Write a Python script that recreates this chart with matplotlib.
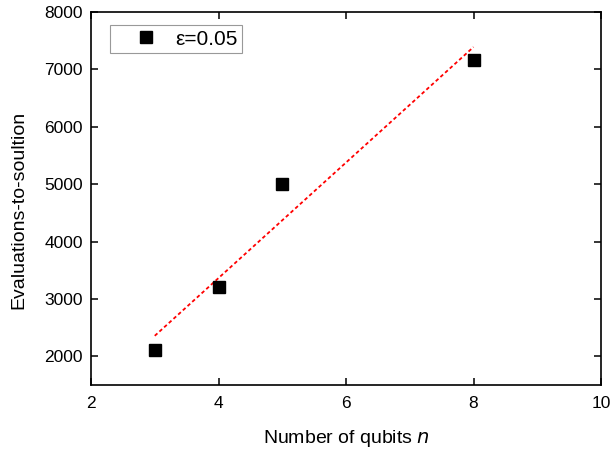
import numpy as np
import matplotlib.pyplot as plt

plt.rcParams['font.family'] = ['Liberation Sans', 'DejaVu Sans']

# data
qubits = [3, 4, 5, 8]
evaluations = [2110, 3200, 5000, 7170]
eps_label = 'ε=0.05'

fig = plt.figure(figsize=(6.11, 4.5), dpi=100)
ax = fig.add_axes([91/611, 65/450, 510/611, 373/450])

ax.plot(qubits, evaluations, 's', color='black', markersize=8, label=eps_label, zorder=3)

# linear fit through the points
coef = np.polyfit(qubits, evaluations, 1)
xfit = np.array([min(qubits), max(qubits)])
ax.plot(xfit, np.polyval(coef, xfit), color='red', linestyle=(0, (2, 1.5)), linewidth=1.3)

ax.set_xlim(2, 10)
ax.set_ylim(1500, 8000)
ax.set_xticks([2, 4, 6, 8, 10])
ax.set_yticks([2000, 3000, 4000, 5000, 6000, 7000, 8000])
ax.tick_params(direction='in', top=True, right=True, length=5, width=1.1, labelsize=12.5)
ax.tick_params(axis='x', pad=8)
ax.tick_params(axis='y', pad=6)
for s in ax.spines.values():
    s.set_linewidth(1.2)

ax.set_xlabel('Number of qubits $n$', fontsize=14, labelpad=12)
ax.set_ylabel('Evaluations-to-soultion', fontsize=14)
ax.yaxis.set_label_coords(-0.125, 0.47)

leg = ax.legend(loc='upper left', bbox_to_anchor=(0.037, 0.965), borderaxespad=0, fontsize=15,
                fancybox=False, edgecolor='gray', handlelength=3.0, handletextpad=-0.1,
                borderpad=0.22)
leg.get_frame().set_linewidth(0.8)

fig.savefig('out.png', dpi=100)
